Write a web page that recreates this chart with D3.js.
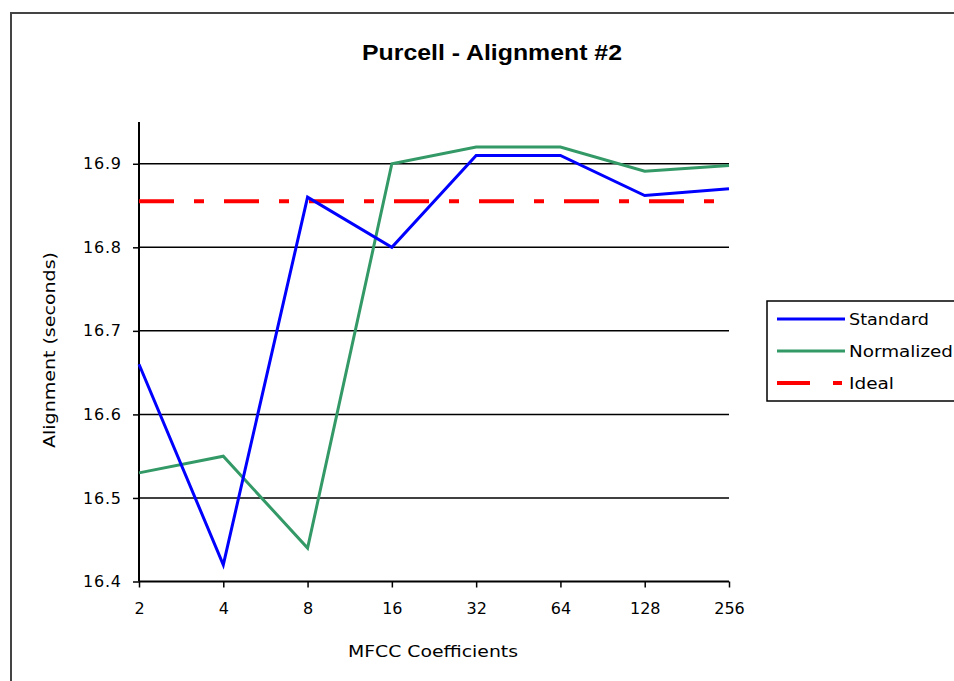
<!DOCTYPE html>
<html>
<head>
<meta charset="utf-8">
<script src="https://cdn.jsdelivr.net/npm/d3@7"></script>
<style>
  body { margin: 0; background: #fff; }
  svg text { font-family: "DejaVu Sans", Verdana, sans-serif; fill: #000; }
</style>
</head>
<body>
<svg id="canvas" width="954" height="681"></svg>
<script>
// chart data
var categories = ["2", "4", "8", "16", "32", "64", "128", "256"];
var standard = [16.66, 16.42, 16.86, 16.80, 16.91, 16.91, 16.862, 16.87];
var normalized = [16.53, 16.55, 16.44, 16.90, 16.92, 16.92, 16.891, 16.898];
var ideal = 16.855;
var yTicks = [16.4, 16.5, 16.6, 16.7, 16.8, 16.9];
var seriesNames = ["Standard", "Normalized", "Ideal"];

var svg = d3.select("#canvas");

// outer frame
svg.append("path")
    .attr("d", "M11,681 V13 H954")
    .attr("fill", "none")
    .attr("stroke", "#444")
    .attr("stroke-width", 2);

var x = d3.scalePoint().domain(categories).range([139, 729]);
var y = d3.scaleLinear().domain([16.4, 16.95]).range([581.5, 122]);

// gridlines
svg.append("g").selectAll("line")
    .data(yTicks.slice(1))
    .enter().append("line")
    .attr("x1", 139).attr("x2", 729)
    .attr("y1", function(d){ return y(d); })
    .attr("y2", function(d){ return y(d); })
    .attr("stroke", "#000")
    .attr("stroke-width", 1.5);

// y axis
var yAxis = svg.append("g")
    .attr("transform", "translate(139,0)")
    .call(d3.axisLeft(y).tickValues(yTicks).tickSize(6).tickPadding(12)
        .tickFormat(d3.format(".1f")));
yAxis.select(".domain").attr("d", "M0,122 V581.5").attr("stroke", "#000").attr("stroke-width", 2);
yAxis.selectAll(".tick line").attr("stroke", "#000").attr("stroke-width", 1.5);
yAxis.selectAll("text").attr("font-size", 16).attr("fill", "#000")
    .attr("textLength", 38);

// x axis
var xAxis = svg.append("g")
    .attr("transform", "translate(0,581.5)")
    .call(d3.axisBottom(x).tickSize(6).tickPadding(15));
xAxis.select(".domain").attr("d", "M139,0 H729").attr("stroke", "#000").attr("stroke-width", 2);
xAxis.selectAll(".tick line").attr("stroke", "#000").attr("stroke-width", 1.5);
xAxis.selectAll("text").attr("font-size", 16).attr("fill", "#000");

// ideal line
svg.append("line")
    .attr("x1", 139).attr("x2", 729)
    .attr("y1", y(ideal)).attr("y2", y(ideal))
    .attr("stroke", "#ff0000")
    .attr("stroke-width", 4)
    .attr("stroke-dasharray", "35,20,10,20");

var line = d3.line()
    .x(function(d, i){ return x(categories[i]); })
    .y(function(d){ return y(d); });

svg.append("path")
    .datum(normalized)
    .attr("d", line)
    .attr("fill", "none")
    .attr("stroke", "#339966")
    .attr("stroke-width", 3);

svg.append("path")
    .datum(standard)
    .attr("d", line)
    .attr("fill", "none")
    .attr("stroke", "#0000ff")
    .attr("stroke-width", 3);

// title and axis titles
svg.append("text")
    .attr("x", 492).attr("y", 60)
    .attr("text-anchor", "middle")
    .style("font-family", "'Liberation Sans', Arial, sans-serif")
    .attr("font-size", 22)
    .attr("font-weight", "bold")
    .attr("textLength", 260)
    .attr("lengthAdjust", "spacingAndGlyphs")
    .text("Purcell - Alignment #2");

svg.append("text")
    .attr("x", 433).attr("y", 657)
    .attr("text-anchor", "middle")
    .attr("font-size", 16)
    .attr("textLength", 170)
    .attr("lengthAdjust", "spacingAndGlyphs")
    .text("MFCC Coefficients");

svg.append("text")
    .attr("transform", "translate(55,350) rotate(-90)")
    .attr("text-anchor", "middle")
    .attr("font-size", 16)
    .attr("textLength", 196)
    .attr("lengthAdjust", "spacingAndGlyphs")
    .text("Alignment (seconds)");

// legend
var legend = svg.append("g");
legend.append("rect")
    .attr("x", 767).attr("y", 301)
    .attr("width", 200).attr("height", 100)
    .attr("fill", "#fff")
    .attr("stroke", "#000")
    .attr("stroke-width", 1.5);

var legendY = [319, 351, 383];
var legendColors = ["#0000ff", "#339966", "#ff0000"];
var legendLen = [80, 104, 45];
seriesNames.forEach(function(name, i){
    var ly = legendY[i];
    if (name == "Ideal") {
        legend.append("line")
            .attr("x1", 777).attr("x2", 810).attr("y1", ly).attr("y2", ly)
            .attr("stroke", legendColors[i]).attr("stroke-width", 4);
        legend.append("line")
            .attr("x1", 833).attr("x2", 842).attr("y1", ly).attr("y2", ly)
            .attr("stroke", legendColors[i]).attr("stroke-width", 4);
    } else {
        legend.append("line")
            .attr("x1", 777).attr("x2", 845).attr("y1", ly).attr("y2", ly)
            .attr("stroke", legendColors[i]).attr("stroke-width", 3);
    }
    legend.append("text")
        .attr("x", 849).attr("y", ly + 6)
        .attr("font-size", 16)
        .attr("textLength", legendLen[i])
        .attr("lengthAdjust", "spacingAndGlyphs")
        .text(name);
});
</script>
</body>
</html>
